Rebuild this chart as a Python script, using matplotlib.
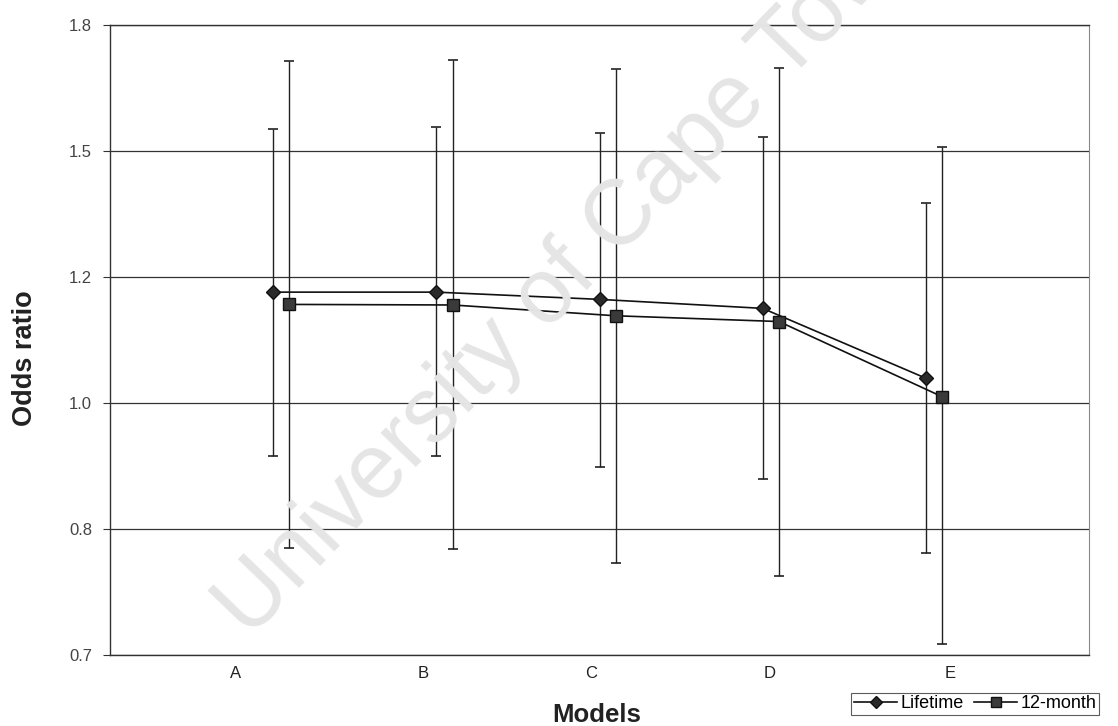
import numpy as np
import matplotlib
matplotlib.use("Agg")
import matplotlib.pyplot as plt
from matplotlib.ticker import FixedLocator, FixedFormatter, NullLocator

plt.rcParams['font.family'] = ['Liberation Sans', 'DejaVu Sans']

# ---- data ----
models = ['A', 'B', 'C', 'D', 'E']
model_x = [1, 2, 3, 4, 5]
lifetime_or = [1.206, 1.206, 1.193, 1.177, 1.060]
lifetime_lo = [0.943, 0.943, 0.928, 0.912, 0.816]
lifetime_hi = [1.540, 1.544, 1.532, 1.521, 1.379]
month12_or = [1.184, 1.183, 1.164, 1.154, 1.031]
month12_lo = [0.822, 0.820, 0.804, 0.788, 0.712]
month12_hi = [1.705, 1.707, 1.686, 1.687, 1.500]
ytick_labels = ['0.7', '0.8', '1.0', '1.2', '1.5', '1.8']
y_min, y_max = 0.7, 1.8
series_names = ['Lifetime', '12-month']

fig = plt.figure(figsize=(11.18, 7.26), dpi=100)
ax = fig.add_axes([110/1118, 1-655/726, (1089-110)/1118, (655-25)/726])

x_l = np.array(model_x, dtype=float)
x_m = x_l + 0.1
lo_l = np.array(lifetime_or) - np.array(lifetime_lo)
hi_l = np.array(lifetime_hi) - np.array(lifetime_or)
lo_m = np.array(month12_or) - np.array(month12_lo)
hi_m = np.array(month12_hi) - np.array(month12_or)

ax.errorbar(x_l, lifetime_or, yerr=[lo_l, hi_l], fmt='none', ecolor='#222222',
            elinewidth=1.0, capsize=3.5, capthick=1.2, zorder=3)
ax.errorbar(x_m, month12_or, yerr=[lo_m, hi_m], fmt='none', ecolor='#222222',
            elinewidth=1.0, capsize=3.5, capthick=1.2, zorder=3)
l1, = ax.plot(x_l, lifetime_or, color='#111111', lw=1.2, marker='D', ms=7.5,
              mfc='#2a2a2a', mec='#111111', zorder=4, label=series_names[0])
l2, = ax.plot(x_m, month12_or, color='#111111', lw=1.2, marker='s', ms=9,
              mfc='#3a3a3a', mec='#111111', zorder=4, label=series_names[1])

ax.set_yscale('log')
ax.set_ylim(y_min, y_max)
ax.set_xlim(0, 6)
r = (y_max / y_min) ** (1 / (len(ytick_labels) - 1))
yticks = [y_min * r ** k for k in range(len(ytick_labels))]
ax.yaxis.set_major_locator(FixedLocator(yticks))
ax.yaxis.set_major_formatter(FixedFormatter(ytick_labels))
ax.yaxis.set_minor_locator(NullLocator())
ax.tick_params(axis='y', length=5, width=0.8, colors='#333333', labelsize=12,
               labelcolor='#444444', pad=8)
ax.set_xticks([])
ax.grid(axis='y', color='#333333', lw=0.9)
for s in ['top', 'bottom', 'left']:
    ax.spines[s].set_color('#333333')
    ax.spines[s].set_linewidth(1.0)
ax.spines['right'].set_color('#888888')

# category labels placed as in reference
label_px = [236, 423, 591, 770, 950]
for lab, px in zip(models, label_px):
    fig.text(px/1118, 1-673/726, lab, ha='center', va='center', fontsize=12, color='#222222')

fig.text(597/1118, 1-715/726, 'Models', ha='center', va='center', fontsize=18.5,
         fontweight='bold', color='#222222')
fig.text(25/1118, 1-358/726, 'Odds ratio', ha='center', va='center', fontsize=19.5,
         fontweight='bold', color='#222222', rotation=90)

leg = fig.legend(handles=[l1, l2], loc='center', bbox_to_anchor=(975/1118, 1-704/726),
                 ncol=2, frameon=True, fancybox=False, edgecolor='#333333',
                 fontsize=13, handlelength=2.4, handletextpad=0.15, columnspacing=0.6,
                 borderpad=0.15, markerscale=0.75)
leg.get_frame().set_linewidth(0.8)

# watermark
fig.text(575/1118, 1-268/726, 'University of Cape Town', rotation=46,
         ha='center', va='center', rotation_mode='anchor', fontsize=66,
         color='#e5e5e5', zorder=0)

fig.savefig('out.png', dpi=100)
